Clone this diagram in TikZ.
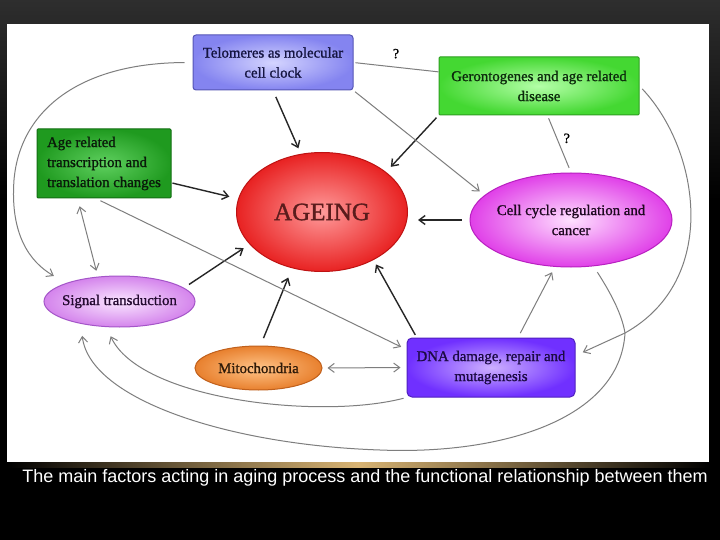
\documentclass[tikz,border=0pt]{standalone}
\usepackage{fontspec}
\setmainfont{Liberation Serif}
\newfontfamily\heavyserif[FakeBold=1.2]{Liberation Serif}
\newfontfamily\captionfont{Liberation Sans}
\usetikzlibrary{arrows.meta,shapes.geometric}
\definecolor{linkdark}{HTML}{262626}
\definecolor{linkgray}{HTML}{7E7E7E}
\definecolor{telofill}{HTML}{8484F0}
\definecolor{teloin}{HTML}{D4D4FF}
\definecolor{teloline}{HTML}{5555B5}
\definecolor{telotext}{HTML}{141440}
\definecolor{gerofill}{HTML}{44D832}
\definecolor{geroin}{HTML}{B4FFA8}
\definecolor{geroline}{HTML}{2E9E20}
\definecolor{gerotext}{HTML}{0C2A0C}
\definecolor{agefill}{HTML}{1F9A1F}
\definecolor{agein}{HTML}{5FD05F}
\definecolor{ageline}{HTML}{136E13}
\definecolor{agetext}{HTML}{0A1A0A}
\definecolor{ageingfill}{HTML}{E82222}
\definecolor{ageingin}{HTML}{FF9A9A}
\definecolor{ageingline}{HTML}{BE1212}
\definecolor{ageingtext}{HTML}{5A1C1C}
\definecolor{cellfill}{HTML}{E040E8}
\definecolor{cellin}{HTML}{FFE0FF}
\definecolor{cellline}{HTML}{B820C0}
\definecolor{celltext}{HTML}{1E0820}
\definecolor{signalfill}{HTML}{D484EC}
\definecolor{signalin}{HTML}{FAE6FF}
\definecolor{signalline}{HTML}{A455C8}
\definecolor{signaltext}{HTML}{240A30}
\definecolor{mitofill}{HTML}{E8802E}
\definecolor{mitoin}{HTML}{FFC488}
\definecolor{mitoline}{HTML}{C0601C}
\definecolor{mitotext}{HTML}{2E1A08}
\definecolor{dnafill}{HTML}{7030FF}
\definecolor{dnain}{HTML}{CDB0FF}
\definecolor{dnaline}{HTML}{5020C0}
\definecolor{dnatext}{HTML}{1C0A44}
\definecolor{goldline}{HTML}{D8B474}
\begin{document}
\begin{tikzpicture}[
  x=1pt,y=-1pt,
  >={Straight Barb[length=6pt,width=9pt]},
  factorbox/.style={draw,line width=1pt,rounded corners=3pt,align=center,inner sep=0pt,
    font=\heavyserif\fontsize{14.8}{20}\selectfont},
  factoroval/.style={ellipse,draw,line width=1pt,align=center,inner xsep=-4pt,inner ysep=0pt,
    font=\heavyserif\fontsize{14.8}{20}\selectfont},
  mainlink/.style={draw=linkdark,line width=1.4pt,->},
  sidelink/.style={draw=linkgray,line width=1pt},
  gap/.style 2 args={shorten <=#1,shorten >=#2}
]
  \useasboundingbox (0,0) rectangle (720,540);
  % backdrop and panel
  \fill[black] (0,0) rectangle (720,540);
  \shade[top color=black!82,bottom color=black] (0,0) rectangle (720,200);
  \fill[white] (7,24) rectangle (709,462);
  \shade[left color=black,right color=black,middle color=goldline] (7,462) rectangle (709,467);

  % factors
  \node[factoroval,minimum width=171pt,minimum height=119pt,draw=ageingline,
    inner color=ageingin,outer color=ageingfill,text=ageingtext,
    font=\heavyserif\fontsize{25}{28}\selectfont] (ageing) at (322,212) {AGEING};
  \node[factorbox,minimum width=160pt,minimum height=55pt,draw=teloline,
    inner color=teloin,outer color=telofill,text=telotext]
    (telo) at (273,62.5) {Telomeres as molecular\\cell clock};
  \node[factorbox,rounded corners=1pt,minimum width=200pt,minimum height=58pt,draw=geroline,
    inner color=geroin,outer color=gerofill,text=gerotext]
    (gero) at (539,86) {Gerontogenes and age related\\disease};
  \node[factorbox,rounded corners=1pt,align=left,minimum width=134pt,minimum height=69pt,
    draw=ageline,inner color=agein,outer color=agefill,text=agetext]
    (agerel) at (104,163.5) {Age related\\transcription and\\translation changes};
  \node[factoroval,minimum width=202pt,minimum height=94pt,draw=cellline,
    inner color=cellin,outer color=cellfill,text=celltext]
    (cell) at (571,220) {Cell cycle regulation and\\cancer};
  \node[factoroval,minimum width=151pt,minimum height=51pt,draw=signalline,
    inner color=signalin,outer color=signalfill,text=signaltext]
    (signal) at (119.5,301.5) {Signal transduction};
  \node[factoroval,minimum width=127pt,minimum height=44pt,draw=mitoline,
    inner color=mitoin,outer color=mitofill,text=mitotext]
    (mito) at (258.5,368) {Mitochondria};
  \node[factorbox,rounded corners=5pt,minimum width=168pt,minimum height=59pt,draw=dnaline,
    inner color=dnain,outer color=dnafill,text=dnatext]
    (dna) at (491,367.5) {DNA damage, repair and\\mutagenesis};
  \coordinate (junction) at (625,333);

  % direct links into ageing
  \draw[mainlink,gap={7pt}{6pt}] (telo.south) -- (ageing.110);
  \draw[mainlink,gap={1pt}{9pt}] (agerel.-16) -- (ageing.171);
  \draw[mainlink,gap={3pt}{7pt}] (gero.south west) -- (ageing.32);
  \draw[mainlink,gap={8pt}{10pt}] (cell.west) -- (cell.west -| ageing.east);
  \draw[mainlink,gap={6pt}{7pt}] (signal.12) -- (ageing.204);
  \draw[mainlink,gap={8pt}{10pt}] (mito.85) -- (ageing.242);
  \draw[mainlink,gap={3pt}{5pt}] (dna.158) -- (ageing.317);

  % side links
  \draw[sidelink,gap={2pt}{0pt}] (telo.east) -- node[above=5pt,pos=.5,font=\heavyserif\fontsize{14}{16}\selectfont] (qtop) {?} (gero.172);
  \draw[sidelink,->,gap={2pt}{6pt}] (telo.south east) -- (cell.164);
  \draw[sidelink,gap={3pt}{5pt}] (gero.-74) -- node[right=3pt,pos=.4,font=\heavyserif\fontsize{14}{16}\selectfont] (qside) {?} (cell.north);
  \draw[sidelink,->,gap={5pt}{6pt}] (agerel.-103) -- (dna.168);
  \draw[sidelink,<->,gap={8pt}{6pt}] (agerel.-127) -- (signal.131);
  \draw[sidelink,<->,gap={5pt}{6pt}] (mito.east) -- (dna.west);
  \draw[sidelink,->,gap={5pt}{6pt}] (dna.48) -- (cell.251);
  \draw[sidelink,->,gap={8pt}{14pt}] (telo.west) .. controls (80,63) and (20,110) .. (14,180)
    .. controls (10,235) and (30,262) .. (signal.161);
  \draw[sidelink,->,gap={4pt}{8pt}] (gero.east) .. controls (700,150) and (720,280) .. (junction) -- (dna.8);
  \draw[sidelink,->,gap={7pt}{12pt}] (cell.-64) .. controls (612,295) and (622,315) .. (junction)
    .. controls (620,420) and (500,455) .. (380,450)
    .. controls (230,445) and (90,400) .. (signal.210);
  \draw[sidelink,->,gap={3pt}{10pt}] (dna.south west) .. controls (320,420) and (140,400) .. (signal.243);

  % caption
  \node[text=white,font=\captionfont\fontsize{18}{20}\selectfont] (caption) at (365,478)
    {The main factors acting in aging process and the functional relationship between them};
\end{tikzpicture}
\end{document}
